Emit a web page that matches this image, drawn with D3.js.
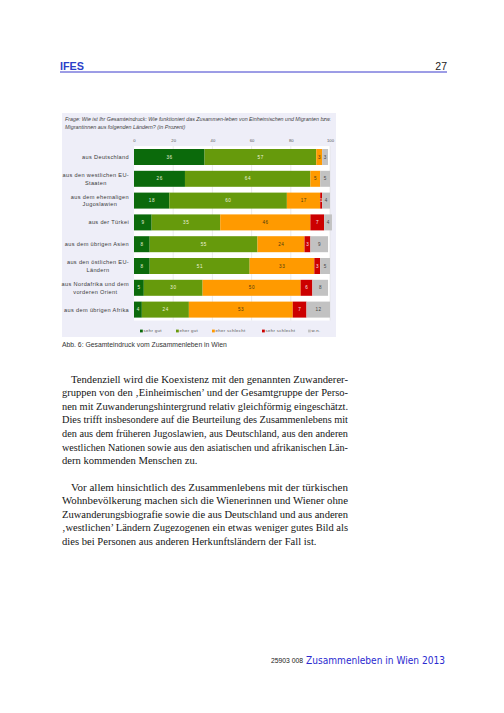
<!DOCTYPE html>
<html>
<head>
<meta charset="utf-8">
<script src="https://cdnjs.cloudflare.com/ajax/libs/d3/7.8.5/d3.min.js"></script>
<style>
  html, body { margin: 0; padding: 0; background: #fff; }
  svg { display: block; }
</style>
</head>
<body>
<div id="page"></div>
<script>
// chart data
const categories = [
    ["aus Deutschland"],
    ["aus den westlichen EU-", "Staaten"],
    ["aus dem ehemaligen", "Jugoslawien"],
    ["aus der Türkei"],
    ["aus dem übrigen Asien"],
    ["aus den östlichen EU-", "Ländern"],
    ["aus Nordafrika und dem", "vorderen Orient"],
    ["aus dem übrigen Afrika"]
];
const seriesNames = ["sehr gut", "eher gut", "eher schlecht", "sehr schlecht", "w.n."];
const sehrGut      = [36, 26, 18,  9,  8,  8,  5,  4];
const eherGut      = [57, 64, 60, 35, 55, 51, 30, 24];
const eherSchlecht = [ 3,  5, 17, 46, 24, 33, 50, 53];
const sehrSchlecht = [ 0,  0,  1,  7,  3,  3,  6,  7];
const weissNicht   = [ 3,  5,  4,  4,  9,  5,  8, 12];
const tickValues = [0, 20, 40, 60, 80, 100];

const colors = ["#0b6a0b", "#669a0c", "#ff9a00", "#cc0000", "#c2c2c2"];
const labelColors = ["#e6efd8", "#eef3dc", "#4a3a10", "#f4e0e0", "#444"];

const paragraph1 = [
    "Tendenziell wird die Koexistenz mit den genannten Zuwanderer-",
    "gruppen von den ‚Einheimischen’ und der Gesamtgruppe der Perso-",
    "nen mit Zuwanderungshintergrund relativ gleichförmig eingeschätzt.",
    "Dies trifft insbesondere auf die Beurteilung des Zusammenlebens mit",
    "den aus dem früheren Jugoslawien, aus Deutschland, aus den anderen",
    "westlichen Nationen sowie aus den asiatischen und afrikanischen Län-",
    "dern kommenden Menschen zu."
];
const paragraph2 = [
    "Vor allem hinsichtlich des Zusammenlebens mit der türkischen",
    "Wohnbevölkerung machen sich die Wienerinnen und Wiener ohne",
    "Zuwanderungsbiografie sowie die aus Deutschland und aus anderen",
    "‚westlichen’ Ländern Zugezogenen ein etwas weniger gutes Bild als",
    "dies bei Personen aus anderen Herkunftsländern der Fall ist."
];

document.addEventListener("DOMContentLoaded", function () {
    const svg = d3.select("#page").append("svg")
        .attr("width", 504)
        .attr("height", 713);

    svg.append("rect").attr("width", 504).attr("height", 713).attr("fill", "#fff");

    drawHeader(svg);
    drawChart(svg);
    drawBody(svg);
    drawFooter(svg);
});

function drawHeader(svg) {
    svg.append("text")
        .attr("x", 60).attr("y", 69.5)
        .attr("font-family", "Liberation Sans, Arial, sans-serif")
        .attr("font-weight", "bold")
        .attr("font-size", 11.5)
        .attr("textLength", 24).attr("lengthAdjust", "spacingAndGlyphs")
        .attr("fill", "#2a3fc8")
        .text("IFES");
    svg.append("text")
        .attr("x", 447).attr("y", 70)
        .attr("text-anchor", "end")
        .attr("font-family", "Liberation Sans, Arial, sans-serif")
        .attr("font-size", 10.5)
        .attr("fill", "#222")
        .text("27");
    svg.append("line")
        .attr("x1", 60).attr("x2", 447)
        .attr("y1", 72).attr("y2", 72)
        .attr("stroke", "#3a3acc").attr("stroke-width", 1);
}

function drawChart(svg) {
    const panel = { left: 62, top: 113, right: 336, bottom: 337 };

    svg.append("rect")
        .attr("x", panel.left).attr("y", panel.top)
        .attr("width", panel.right - panel.left)
        .attr("height", panel.bottom - panel.top)
        .attr("fill", "#eeeef8");

    // question text
    const q = svg.append("g")
        .attr("font-family", "Liberation Sans, Arial, sans-serif")
        .attr("font-style", "italic")
        .attr("font-size", 5.4)
        .attr("fill", "#444");
    q.append("text").attr("x", 65).attr("y", 121)
        .attr("textLength", 266).attr("lengthAdjust", "spacingAndGlyphs")
        .text("Frage: Wie ist Ihr Gesamteindruck: Wie funktioniert das Zusammen-leben von Einheimischen und Migranten bzw.");
    q.append("text").attr("x", 65).attr("y", 128.5)
        .text("Migrantinnen aus folgenden Ländern?  (in Prozent)");

    const x = d3.scaleLinear().domain([0, 100]).range([134, 330]);
    const y = d3.scaleBand()
        .domain(d3.range(categories.length))
        .range([146.1, 320.5])
        .paddingInner(0.266)
        .paddingOuter(0.133);

    // white plot area and grid
    svg.append("rect")
        .attr("x", x(0)).attr("y", y.range()[0])
        .attr("width", x(100) - x(0))
        .attr("height", y.range()[1] - y.range()[0])
        .attr("fill", "#fff");

    svg.append("g")
        .selectAll("line")
        .data(tickValues.slice(1))
        .enter().append("line")
        .attr("x1", d => x(d)).attr("x2", d => x(d))
        .attr("y1", y.range()[0]).attr("y2", y.range()[1])
        .attr("stroke", "#d8d8d8").attr("stroke-width", 0.5);

    const axis = svg.append("g")
        .attr("transform", "translate(0,142)")
        .call(d3.axisTop(x).tickValues(tickValues).tickSize(0).tickPadding(0));
    axis.select(".domain").remove();
    axis.selectAll("text")
        .attr("font-family", "Liberation Sans, Arial, sans-serif")
        .attr("font-size", 4.2)
        .attr("fill", "#555");

    // stack
    const rows = categories.map((c, i) => ({
        i: i,
        values: [sehrGut[i], eherGut[i], eherSchlecht[i], sehrSchlecht[i], weissNicht[i]]
    }));

    const segments = [];
    rows.forEach(r => {
        let acc = 0;
        r.values.forEach((v, k) => {
            segments.push({ row: r.i, k: k, v: v, x0: acc, x1: acc + v });
            acc += v;
        });
    });

    svg.append("g").selectAll("rect")
        .data(segments.filter(d => d.v > 0))
        .enter().append("rect")
        .attr("x", d => x(d.x0))
        .attr("y", d => y(d.row))
        .attr("width", d => x(d.x1) - x(d.x0))
        .attr("height", y.bandwidth())
        .attr("fill", d => colors[d.k]);

    svg.append("g")
        .attr("font-family", "Liberation Sans, Arial, sans-serif")
        .attr("font-size", 4.6)
        .attr("letter-spacing", 0.6)
        .attr("text-anchor", "middle")
        .selectAll("text")
        .data(segments.filter(d => d.v > 0))
        .enter().append("text")
        .attr("x", d => (x(d.x0) + x(d.x1)) / 2 + 0.3)
        .attr("y", d => y(d.row) + y.bandwidth() / 2 + 1.6)
        .attr("fill", d => labelColors[d.k])
        .text(d => d.v);

    // category labels: right-aligned block, lines centred
    const lab = svg.append("g")
        .attr("font-family", "Liberation Sans, Arial, sans-serif")
        .attr("font-size", 5.6)
        .attr("letter-spacing", 0.35)
        .attr("fill", "#3a3a3a")
        .attr("text-anchor", "middle");

    categories.forEach((lines, i) => {
        const g = lab.append("g");
        const texts = lines.map((t, j) => g.append("text")
            .attr("y", y(i) + y.bandwidth() / 2 + 2 + (j - (lines.length - 1) / 2) * 7.4)
            .text(t));
        const w = d3.max(texts, t => t.node().getComputedTextLength());
        texts.forEach(t => t.attr("x", 129 - w / 2));
    });

    // legend
    const legendX = [140, 176, 212, 262, 308];
    const leg = svg.append("g")
        .attr("font-family", "Liberation Sans, Arial, sans-serif")
        .attr("font-size", 4.4)
        .attr("letter-spacing", 0.3)
        .attr("fill", "#555");
    seriesNames.forEach((n, k) => {
        leg.append("rect")
            .attr("x", legendX[k]).attr("y", 329.6)
            .attr("width", 2.8).attr("height", 2.8)
            .attr("fill", colors[k]);
        leg.append("text")
            .attr("x", legendX[k] + 3.6).attr("y", 332.4)
            .text(n);
    });

    svg.append("text")
        .attr("x", 62).attr("y", 346.5)
        .attr("font-family", "Liberation Sans, Arial, sans-serif")
        .attr("font-size", 6.8)
        .attr("fill", "#333")
        .text("Abb. 6: Gesamteindruck vom Zusammenleben in Wien");
}

function drawBody(svg) {
    const left = 62, right = 348, indent = 9, lh = 13.65;
    const g = svg.append("g")
        .attr("font-family", "Liberation Serif, Times New Roman, serif")
        .attr("font-size", 10.6)
        .attr("fill", "#151515");

    function para(lines, y0) {
        lines.forEach((t, j) => {
            const x0 = j === 0 ? left + indent : left;
            const el = g.append("text")
                .attr("x", x0)
                .attr("y", y0 + j * lh)
                .text(t);
            if (j < lines.length - 1) {
                el.attr("textLength", right - x0).attr("lengthAdjust", "spacingAndGlyphs");
            }
        });
    }
    para(paragraph1, 382.5);
    para(paragraph2, 490.5);
}

function drawFooter(svg) {
    svg.append("text")
        .attr("x", 271).attr("y", 663)
        .attr("font-family", "Liberation Sans, Arial, sans-serif")
        .attr("font-size", 6.8)
        .attr("fill", "#222")
        .text("25903 008");
    svg.append("text")
        .attr("x", 306).attr("y", 663.5)
        .attr("font-family", "DejaVu Sans, Liberation Sans, sans-serif")
        .attr("font-size", 10)
        .attr("textLength", 139).attr("lengthAdjust", "spacingAndGlyphs")
        .attr("fill", "#2a2ad0")
        .text("Zusammenleben in Wien 2013");
}
</script>
</body>
</html>
